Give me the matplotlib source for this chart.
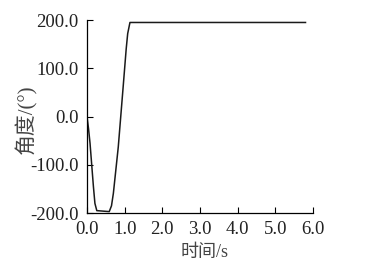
import matplotlib
matplotlib.use("Agg")
import matplotlib.pyplot as plt

# angle response
t = [0.0, 0.04, 0.08, 0.13, 0.17, 0.21, 0.26, 0.59, 0.65, 0.70, 0.83, 0.96, 1.04, 1.08, 1.14, 5.8]
angle = [0.0, -25, -55, -105, -145, -180, -195, -197, -185, -159, -63, 62, 140, 172, 195, 195]

xticks = [0, 1, 2, 3, 4, 5, 6]
yticks = [-200, -100, 0, 100, 200]

plt.rcParams['font.family'] = ['Liberation Serif', 'Noto Sans CJK SC']
plt.rcParams['axes.unicode_minus'] = False

fig = plt.figure(figsize=(3.86, 2.64), dpi=100)
ax = fig.add_axes([0.2254, 0.193, 0.5856, 0.731])
ax.plot(t, angle, color='#1a1a1a', linewidth=1.1)

ax.set_xlim(0, 6)
ax.set_ylim(-200, 200)
ax.set_xticks(xticks)
ax.set_xticklabels([f"{v:.1f}" for v in xticks])
ax.set_yticks(yticks)
ax.set_yticklabels([f"{v:.1f}" for v in yticks])
ax.tick_params(direction='in', length=4, width=0.8, labelsize=13.5, pad=6, labelcolor='#222222')
for s in ['top', 'right']:
    ax.spines[s].set_visible(False)
for s in ['left', 'bottom']:
    ax.spines[s].set_linewidth(0.9)

ax.set_xlabel("时间/s", fontsize=13, color='#444444')
ax.xaxis.set_label_coords(0.522, -0.16)
ax.set_ylabel("角度/(°)", fontsize=15, color='#444444')
ax.yaxis.set_label_coords(-0.22, 0.487)

fig.savefig("out.png", dpi=100)
